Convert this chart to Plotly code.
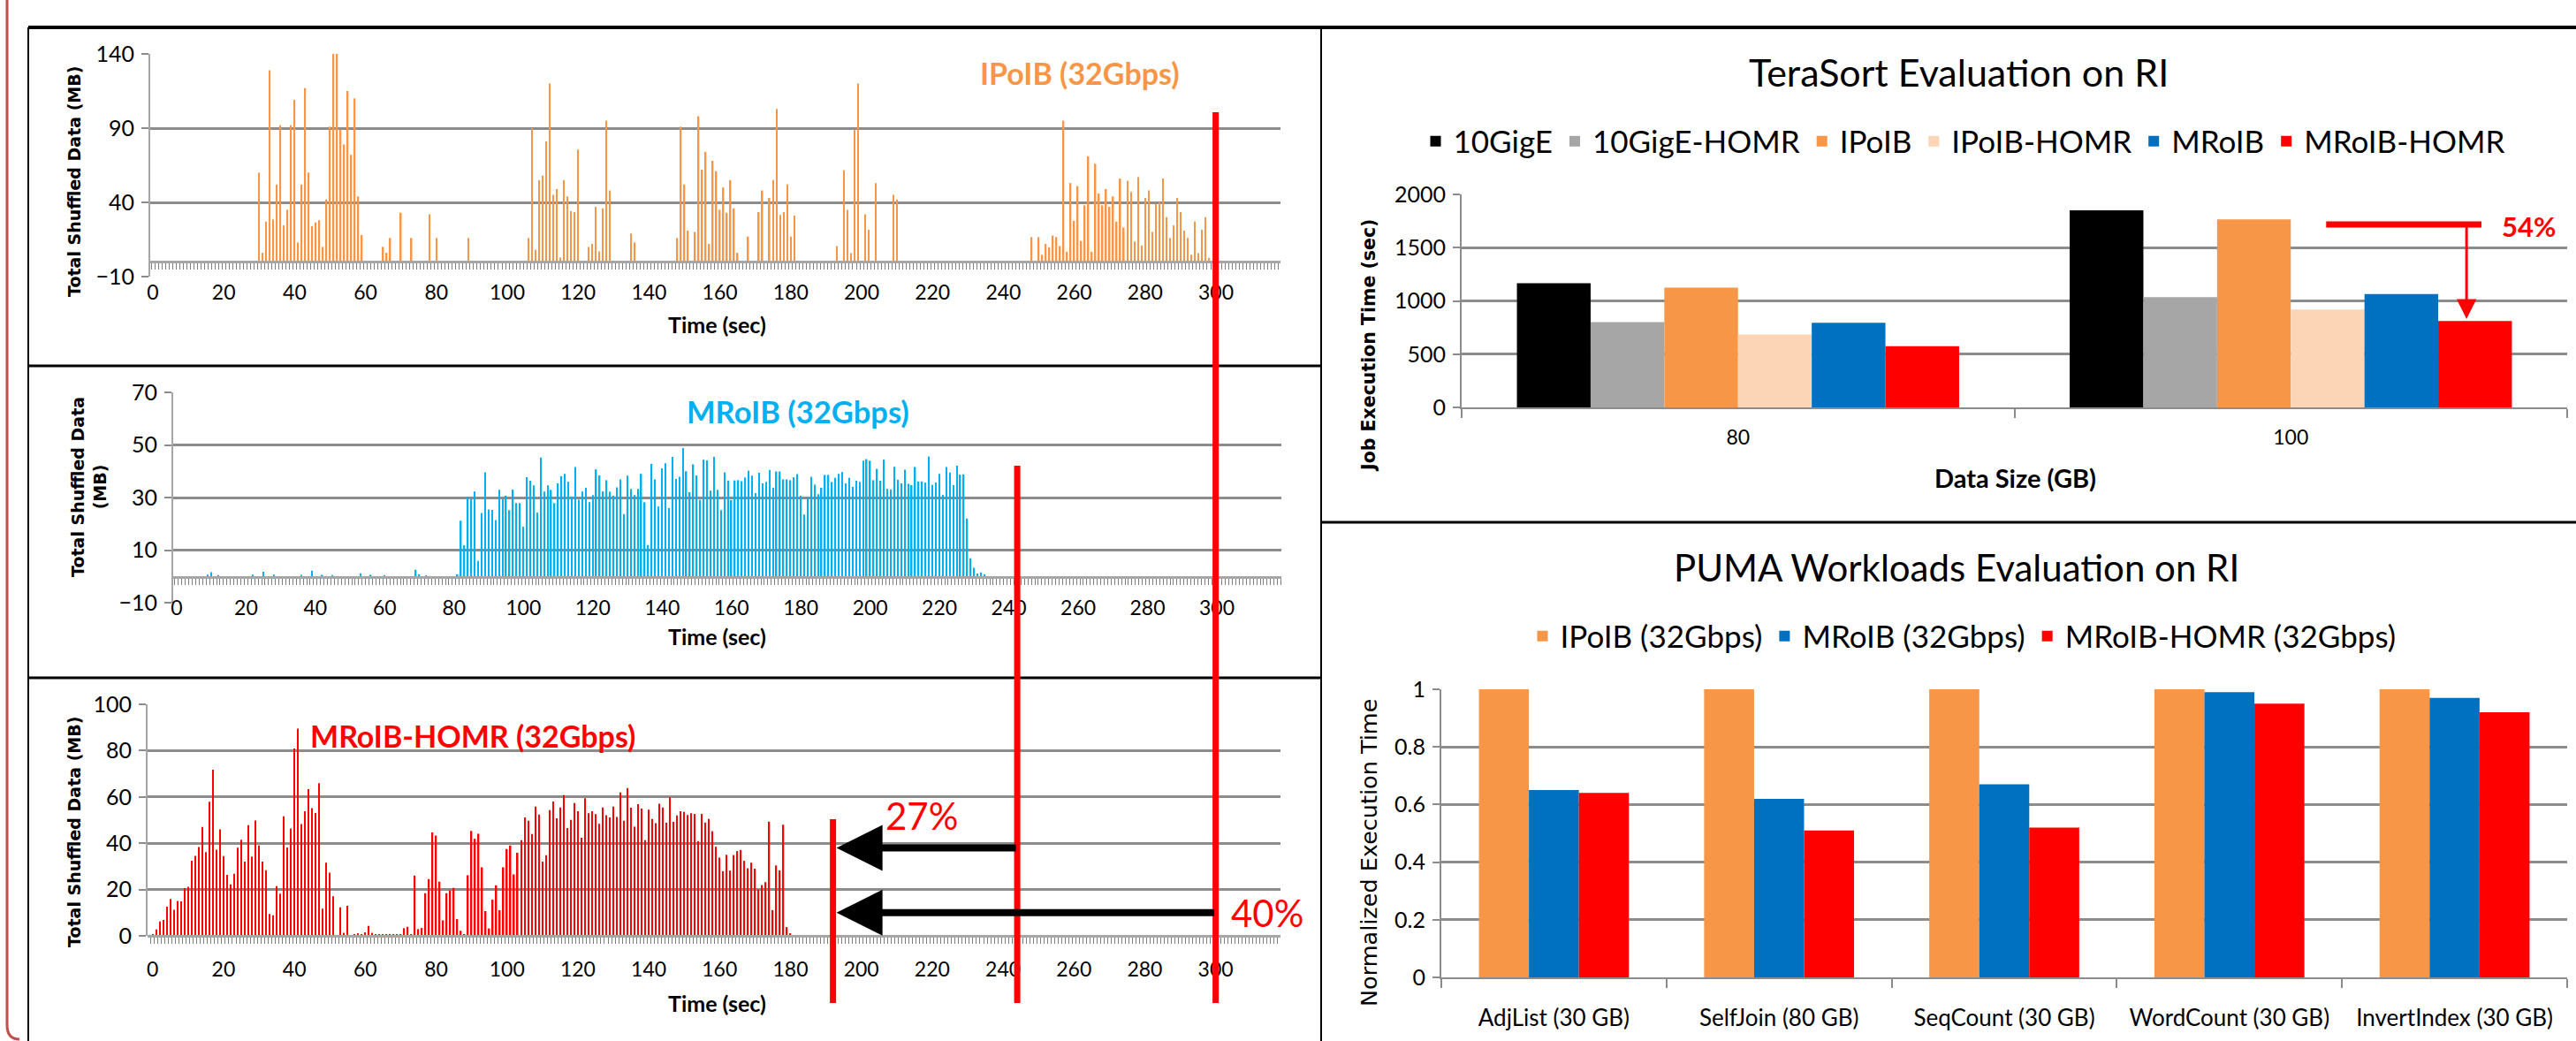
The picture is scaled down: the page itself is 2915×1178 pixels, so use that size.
import plotly.graph_objects as go

W, H = 2915, 1178
def fx(p): return p / W
def fy(p): return 1 - p / H

FONT = "Lato, 'Open Sans', sans-serif"
VERD = "'DejaVu Sans', Verdana, sans-serif"
GRID = "#8C8C8C"

# ---------------- data ----------------
# Panel 1: IPoIB (32Gbps) shuffled data per second (MB)
ipoib_t = [30, 31, 32, 33, 34, 35, 36, 37, 38, 39, 40, 41, 42, 43, 44, 45, 46, 47, 48, 49,
           50, 51, 52, 53, 54, 55, 56, 57, 58, 59,
           65, 66, 67, 70, 73, 78, 80, 89,
           106, 107, 108, 109, 110, 111, 112, 113, 114, 115, 116, 117, 118, 119, 120,
           123, 124, 125, 126, 127, 128, 129, 135, 136,
           148, 149, 150, 151, 153, 154, 155, 156, 157, 158, 159, 160, 161, 162, 163, 164, 165,
           168, 171, 172, 174, 175, 176, 177, 178, 179, 180, 181,
           193, 195, 196, 197, 198, 199, 201, 202, 204, 209, 210,
           248, 250, 251, 252, 253, 254, 255, 256, 257, 258, 259, 260, 261, 262, 263, 264, 265,
           266, 267, 268, 269, 270, 271, 272, 273, 274, 275, 276, 277, 278, 279, 280, 281, 282,
           283, 284, 285, 286, 287, 288, 289, 290, 291, 292, 293, 294, 295, 296, 297, 298]
ipoib_v = [60, 6, 27, 129, 28.5, 52, 92, 24.5, 35, 92, 109, 13, 52, 117, 60, 24, 26.5, 28, 10, 42,
           91, 140, 140, 89, 79, 115, 72, 110, 44, 18,
           10, 6, 16, 33, 16, 32, 16, 16,
           16, 90, 8, 55, 58, 81, 120, 45, 49, 3, 55, 44, 34, 33.5, 75.5,
           10, 12, 37, 7, 36, 95, 48, 19, 13,
           16, 91, 52, 21, 20, 98, 62, 74, 12, 68, 61, 35, 50, 33, 55, 36, 6,
           17, 33.5, 48, 43, 55, 103, 31.5, 33.5, 52, 17, 31,
           10.6, 61.6, 35, 5.7, 89, 120, 32, 21.6, 53, 45, 42,
           16.6, 16.6, 4.7, 12, 9.7, 17.6, 16.6, 10.6, 95, 6.7, 53, 27.5, 51, 14, 38, 71, 6.7,
           66, 46, 38, 49, 37, 44, 27, 56, 23, 54.5, 47, 13.6, 57, 11, 43, 48, 20,
           39, 40, 56, 30, 16, 24.5, 43, 33.5, 21, 16, 4.7, 27, 5.7, 21.6, 30, 2.7]

# Panel 2: MRoIB (32Gbps)
mroib_early_t = [9, 10, 12, 22, 25, 28, 36, 39, 42, 45, 53, 56, 60, 69, 70, 72, 81]
mroib_early_v = [0.7, 1.6, 0.5, 0.7, 1.8, 0.7, 0.6, 2.2, 0.6, 0.5, 1.2, 0.6, 0.5, 2.5, 0.8, 0.4, 0.8]
mroib_start = 82
mroib_v = [21.2, 11.8, 30.2, 29.4, 32.3, 5.9, 24.1, 39.6, 25.5, 25.3,
           21.4, 32.9, 29.3, 30.7, 25.2, 33.0, 27.9, 27.9, 18.9, 37.7,
           36.4, 34.6, 24.3, 45.2, 32.3, 34.6, 32.9, 27.9, 35.4, 38.1,
           39.0, 36.0, 30.3, 41.6, 29.2, 32.3, 33.7, 28.2, 30.9, 40.7,
           38.4, 32.3, 36.6, 32.2, 30.7, 33.9, 36.9, 23.7, 38.3, 33.3,
           30.9, 33.3, 39.0, 28.2, 11.9, 42.8, 36.9, 26.6, 41.1, 43.0,
           26.0, 45.5, 37.1, 37.9, 48.8, 40.0, 32.0, 42.6, 38.4, 29.1,
           44.4, 44.1, 32.6, 45.5, 32.9, 25.2, 39.6, 36.5, 29.0, 36.5,
           36.6, 36.2, 37.6, 40.2, 38.3, 31.7, 39.4, 35.4, 36.0, 40.5,
           33.7, 39.9, 39.9, 36.9, 36.9, 36.6, 37.7, 38.9, 30.7, 23.5,
           30.0, 37.9, 34.9, 31.3, 33.7, 38.6, 38.6, 35.9, 37.5, 39.0,
           39.7, 35.4, 37.5, 34.0, 36.4, 36.0, 44.0, 44.6, 44.0, 36.6,
           40.9, 36.4, 44.4, 33.3, 33.0, 41.7, 36.7, 35.4, 40.6, 35.2,
           34.7, 41.6, 36.1, 36.1, 35.7, 45.6, 34.8, 35.7, 39.0, 31.0,
           41.6, 39.5, 34.7, 42.1, 38.7, 38.8, 22.0, 6.9, 3.3, 1.1,
           1.5, 0.8]

# Panel 3: MRoIB-HOMR (32Gbps), one value per second from t=0
homr_start = 0
homr_v = [0.6, 2.8, 6.2, 6.9, 12.6, 15.9, 11.3, 15.1, 14.9, 20.6,
          21.2, 32.4, 34.5, 38.4, 47.0, 36.2, 57.9, 71.8, 37.2, 46.0,
          34.4, 26.3, 22.2, 26.8, 38.1, 41.5, 32.1, 47.8, 34.3, 49.8,
          39.0, 32.1, 28.3, 9.4, 8.9, 21.5, 18.2, 51.6, 38.2, 46.4,
          80.9, 89.5, 48.3, 53.8, 63.4, 55.2, 53.1, 65.9, 11.7, 31.6,
          27.3, 17.1, 0.3, 12.3, 1.3, 13.0, 0.3, 0.5, 1.1, 0.4,
          1.5, 4.3, 1.3, 0.6, 0.4, 0.4, 0.4, 0.8, 0.4, 0.4,
          0.4, 3.3, 3.9, 0.4, 26.0, 2.9, 3.4, 18.4, 24.5, 44.7,
          43.3, 23.4, 6.7, 18.4, 19.6, 20.7, 7.2, 2.2, 0.4, 26.2,
          45.3, 41.9, 44.1, 29.6, 10.7, 3.2, 15.6,
          21.8, 11.1, 29.6, 37.5, 39.0, 26.5, 35.9, 41.3, 51.1, 49.7,
          44.0, 55.8, 52.4, 32.1, 34.8, 54.3, 58.0, 50.8, 55.4, 60.8,
          46.6, 50.1, 57.3, 53.8, 42.4, 59.4, 53.0, 53.8, 52.6, 48.4,
          55.4, 52.1, 51.1, 55.8, 51.3, 61.9, 49.7, 63.8, 55.3, 47.1,
          56.9, 55.0, 41.3, 54.5, 50.5, 48.7, 57.1, 55.4, 48.9, 59.8,
          49.2, 52.0, 53.8, 53.5, 52.2, 53.0, 52.7, 40.9, 52.7, 48.9,
          50.5, 45.2, 38.5, 33.8, 27.9, 35.0, 28.2, 34.9, 36.6, 37.1,
          32.4, 29.2, 31.6, 29.0, 20.0, 21.9, 23.2, 49.3, 11.1, 30.4,
          28.3, 48.0, 3.8, 1.1]

time_ticks = list(range(0, 301, 20))
end_time = {"IPoIB": 300, "MRoIB": 244, "MRoIB-HOMR": 192}

# TeraSort
tera_sizes = ["80", "100"]
tera_series = ["10GigE", "10GigE-HOMR", "IPoIB", "IPoIB-HOMR", "MRoIB", "MRoIB-HOMR"]
tera_colors = ["#000000", "#A6A6A6", "#F79646", "#FBD5B5", "#0070C0", "#FF0000"]
tera_vals = [[1165, 1850], [800, 1035], [1125, 1765], [685, 920], [795, 1065], [575, 812]]

# PUMA
puma_cats = ["AdjList (30 GB)", "SelfJoin (80 GB)", "SeqCount (30 GB)", "WordCount (30 GB)", "InvertIndex (30 GB)"]
puma_series = ["IPoIB (32Gbps)", "MRoIB (32Gbps)", "MRoIB-HOMR (32Gbps)"]
puma_colors = ["#F79646", "#0070C0", "#FF0000"]
puma_vals = [[1, 1, 1, 1, 1], [0.65, 0.62, 0.67, 0.99, 0.97], [0.64, 0.51, 0.52, 0.95, 0.92]]

# ---------------- figure ----------------
fig = go.Figure()

homr_t = list(range(homr_start, homr_start + len(homr_v)))
mroib_t = mroib_early_t + list(range(mroib_start, mroib_start + len(mroib_v)))
mroib_all = mroib_early_v + mroib_v

BW = 0.38
fig.add_trace(go.Bar(x=ipoib_t, y=ipoib_v, width=BW, marker=dict(color="#F79646", line_width=0),
                     xaxis="x", yaxis="y", showlegend=False))
fig.add_trace(go.Bar(x=mroib_t, y=mroib_all, width=BW, marker=dict(color="#00B0F0", line_width=0),
                     xaxis="x2", yaxis="y2", showlegend=False))
fig.add_trace(go.Bar(x=homr_t, y=homr_v, width=BW, marker=dict(color="#FF0000", line_width=0),
                     xaxis="x3", yaxis="y3", showlegend=False))

for name, col, vals in zip(tera_series, tera_colors, tera_vals):
    fig.add_trace(go.Bar(x=tera_sizes, y=vals, name=name, marker=dict(color=col, line_width=0),
                         xaxis="x4", yaxis="y4", legend="legend", offsetgroup=name))
for i, (name, col, vals) in enumerate(zip(puma_series, puma_colors, puma_vals)):
    fig.add_trace(go.Bar(x=puma_cats, y=vals, name=name, marker=dict(color=col, line_width=0),
                         xaxis="x5", yaxis="y5", legend="legend2",
                         width=0.222, offset=-0.333 + i * 0.222))

# dummy traces so the per-second hatch axes are drawn
for xa, ya in [("x6", "y"), ("x7", "y2"), ("x8", "y3")]:
    fig.add_trace(go.Scatter(x=[0], y=[None], xaxis=xa, yaxis=ya, showlegend=False, hoverinfo="skip"))

xtickfont = dict(family=FONT, size=23, color="#000000")
ytickfont = dict(family=FONT, size=25, color="#000000")

def time_axis(dom, rng, standoff):
    return dict(domain=[fx(dom[0]), fx(dom[1])], range=rng, tickvals=time_ticks, ticks="",
                showgrid=False, zeroline=False, showline=False, tickfont=xtickfont, tickangle=0,
                ticklabelstandoff=standoff, fixedrange=True)

def val_axis(dom, rng, tv, anchor):
    return dict(domain=[fy(dom[1]), fy(dom[0])], range=rng, tickvals=tv, ticks="outside", ticklen=8,
                tickcolor=GRID, tickwidth=2, showgrid=True, gridcolor=GRID, gridwidth=3,
                zeroline=False, showline=True, linecolor="#A6A6A6", linewidth=2,
                tickfont=ytickfont, anchor=anchor, ticklabelstandoff=3)

def hatch_axis(over, rng, ypix):
    return dict(overlaying=over, anchor="free", position=fy(ypix), range=rng, dtick=1, tick0=0.5,
                ticks="outside", ticklen=7, tickwidth=1, tickcolor="#7F7F7F", showticklabels=False,
                showgrid=False, zeroline=False, showline=True, linecolor="#A6A6A6", linewidth=3)

r1 = [-0.75, 318.2]
r2 = [-1.0, 318.6]
r3 = [-1.44, 318.3]

fig.update_layout(
    width=W, height=H, margin=dict(l=0, r=0, t=0, b=0, autoexpand=False),
    paper_bgcolor="white", plot_bgcolor="rgba(0,0,0,0)",
    barmode="group", bargap=0.2, bargroupgap=0,
    font=dict(family=FONT, color="#000000"),
    xaxis=time_axis((170, 1449), r1, 2) | dict(anchor="y"),
    yaxis=val_axis((61, 313), [-10, 140], [-10, 40, 90, 140], "x"),
    xaxis2=time_axis((196, 1450), r2, -10) | dict(anchor="y2"),
    yaxis2=val_axis((444, 682), [-10, 70], [-10, 10, 30, 50, 70], "x2"),
    xaxis3=time_axis((167, 1449), r3, 22) | dict(anchor="y3"),
    yaxis3=val_axis((797, 1059), [0, 100], list(range(0, 101, 20)), "x3"),
    xaxis6=hatch_axis("x", r1, 296),
    xaxis7=hatch_axis("x2", r2, 653),
    xaxis8=hatch_axis("x3", r3, 1059),
    xaxis4=dict(domain=[fx(1654), fx(2905)], anchor="y4", type="category", tickson="boundaries",
                ticks="outside", ticklen=10, tickcolor=GRID, tickwidth=2, showline=True, tickangle=0,
                linecolor=GRID, linewidth=2, showgrid=False, tickfont=xtickfont, ticklabelstandoff=12),
    yaxis4=dict(domain=[fy(461), fy(220)], anchor="x4", range=[0, 2000], tickvals=[0, 500, 1000, 1500, 2000],
                ticks="outside", ticklen=8, tickcolor=GRID, tickwidth=2, showgrid=True, gridcolor=GRID,
                gridwidth=3, zeroline=False, showline=True, linecolor=GRID, linewidth=2, tickfont=ytickfont,
                ticklabelstandoff=3),
    xaxis5=dict(domain=[fx(1631), fx(2905)], anchor="y5", type="category", tickson="boundaries",
                ticks="outside", ticklen=10, tickcolor=GRID, tickwidth=2, showline=True, tickangle=0,
                linecolor=GRID, linewidth=2, showgrid=False, tickfont=dict(family=FONT, size=26, color="#000"),
                ticklabelstandoff=22),
    yaxis5=dict(domain=[fy(1106), fy(780)], anchor="x5", range=[0, 1], tickvals=[0, 0.2, 0.4, 0.6, 0.8, 1],
                ticks="outside", ticklen=8, tickcolor=GRID, tickwidth=2, showgrid=True, gridcolor=GRID,
                gridwidth=3, zeroline=False, showline=True, linecolor=GRID, linewidth=2, tickfont=ytickfont,
                ticklabelstandoff=3),
    legend=dict(orientation="h", x=fx(2222), y=fy(160), xanchor="center", yanchor="middle",
                font=dict(family=FONT, size=35, color="#000"), bgcolor="rgba(0,0,0,0)",
                itemclick=False, traceorder="normal"),
    legend2=dict(orientation="h", x=fx(2221), y=fy(720), xanchor="center", yanchor="middle",
                 font=dict(family=FONT, size=35, color="#000"), bgcolor="rgba(0,0,0,0)",
                 itemclick=False, traceorder="normal"),
)

shapes = []
# slide frame and panel dividers
shapes.append(dict(type="path", xref="paper", yref="paper",
                   path=f"M {fx(8)},{fy(0)} L {fx(8)},{fy(1160)} Q {fx(8)},{fy(1176)} {fx(22)},{fy(1176)}",
                   line=dict(color="#C0504D", width=3)))
def pline(x0, y0, x1, y1, w=3, c="#000000"):
    shapes.append(dict(type="line", xref="paper", yref="paper", x0=fx(x0), y0=fy(y0), x1=fx(x1), y1=fy(y1),
                       line=dict(color=c, width=w)))
pline(32, 31, W, 31, 4)
pline(32, 31, 32, H, 2)
pline(1495, 31, 1495, H, 2)
pline(32, 414, 1495, 414, 3)
pline(32, 767, 1495, 767, 3)
pline(1495, 591, W, 591, 3)

# red end-of-job lines (time positions on the shared time scale)
for key, top in [("IPoIB", 127), ("MRoIB", 527), ("MRoIB-HOMR", 927)]:
    shapes.append(dict(type="line", xref="x3", yref="paper", x0=end_time[key], x1=end_time[key],
                       y0=fy(top), y1=fy(1135), line=dict(color="#FF0000", width=7)))

# 54% bracket on TeraSort
shapes.append(dict(type="line", xref="x4", yref="y4", x0=1.064, x1=1.345, y0=1717, y1=1717,
                   line=dict(color="#FF0000", width=7)))
fig.update_layout(shapes=shapes)

ann = []
# arrows in panel 3
for start, yv in [(end_time["MRoIB"], 38), (end_time["IPoIB"], 10)]:
    ann.append(dict(xref="x3", yref="y3", x=end_time["MRoIB-HOMR"] + 1, y=yv, axref="x3", ayref="y3",
                    ax=start, ay=yv, showarrow=True, arrowhead=2, arrowsize=1.3, arrowwidth=8,
                    arrowcolor="#000000", text="", standoff=0))
ann.append(dict(xref="x4", yref="y4", x=1.318, y=830, axref="x4", ayref="y4", ax=1.318, ay=1717,
                showarrow=True, arrowhead=2, arrowsize=1.5, arrowwidth=3, arrowcolor="#FF0000", text=""))

def txt(x, y, s, size, color="#000", bold=False, xref="paper", yref="paper", family=FONT, angle=0, **kw):
    ann.append(dict(x=x, y=y, xref=xref, yref=yref, text=f"<b>{s}</b>" if bold else s, showarrow=False,
                    font=dict(family=family, size=size, color=color), textangle=angle,
                    xanchor="center", yanchor="middle", **kw))

txt(261.6, 127, "IPoIB (32Gbps)", 34, "#F79646", True, "x", "y")
txt(179.3, 62.9, "MRoIB (32Gbps)", 34.5, "#00B0F0", True, "x2", "y2")
txt(90.4, 86.4, "MRoIB-HOMR (32Gbps)", 34, "#FF0000", True, "x3", "y3")
txt(217, 52, "27%", 42, "#FF0000", False, "x3", "y3")
txt(314.6, 10, "40%", 42, "#FF0000", False, "x3", "y3")
txt(1.43, 1700, "54%", 31, "#FF0000", True, "x4", "y4")

for yc in (367, 720, 1135):
    txt(fx(811), fy(yc), "Time (sec)", 25, bold=True)
txt(fx(84), fy(206), "Total Shuffled Data (MB)", 19, bold=True, family=VERD, angle=-90)
txt(fx(100), fy(551), "Total Shuffled Data<br>(MB)", 19, bold=True, family=VERD, angle=-90)
txt(fx(84), fy(942), "Total Shuffled Data (MB)", 19, bold=True, family=VERD, angle=-90)

txt(fx(2216), fy(82), "TeraSort Evaluation on RI", 43)
txt(fx(2214), fy(642), "PUMA Workloads Evaluation on RI", 42)
txt(fx(2280), fy(540), "Data Size (GB)", 29, bold=True)
txt(fx(1549), fy(391), "Job Execution Time (sec)", 20.5, bold=True, family=VERD, angle=-90)
txt(fx(1549), fy(965), "Normalized Execution Time", 25.5, family=VERD, angle=-90)

fig.update_layout(annotations=ann)
fig.write_html("out.html",
               post_script="document.documentElement.style.margin='0';document.body.style.margin='0';"
                           "document.body.style.padding='0';document.body.style.overflow='hidden';")
